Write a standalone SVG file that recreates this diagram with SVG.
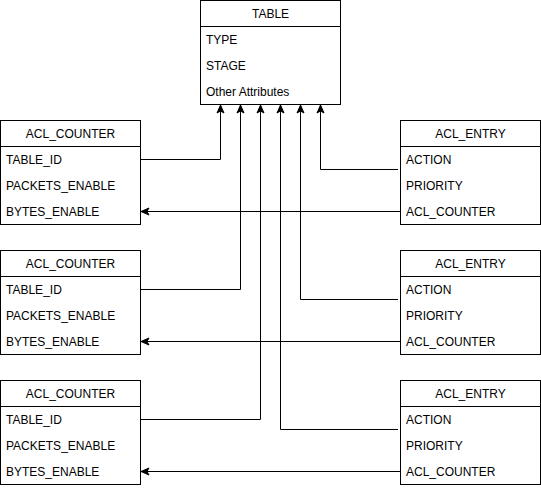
<svg xmlns="http://www.w3.org/2000/svg" width="541" height="488" viewBox="0 0 541 488">
<style>
.box{fill:#fff;stroke:#000;stroke-width:1}
.sep{stroke:#000;stroke-width:1}
.h{font-family:"Liberation Sans",Arial,sans-serif;font-size:12px;fill:#000;text-anchor:middle;dominant-baseline:central}
.r{font-family:"Liberation Sans",Arial,sans-serif;font-size:12px;fill:#000;dominant-baseline:central}
.c{fill:none;stroke:#000;stroke-width:1}
</style>
<defs>
<marker id="arr" markerWidth="10" markerHeight="10" refX="9" refY="5" orient="auto" markerUnits="userSpaceOnUse">
<path d="M1,1.5 L9,5 L1,8.5 L3,5 Z" fill="#000" stroke="#000" stroke-width="1"/>
</marker>
</defs>
<rect width="541" height="488" fill="#fff"/>
<g id="connectors">
<path class="c" d="M140.5,159.5 H220.5 V105" marker-end="url(#arr)"/>
<path class="c" d="M140.5,289.5 H240.5 V105" marker-end="url(#arr)"/>
<path class="c" d="M140.5,419.5 H260.5 V105" marker-end="url(#arr)"/>
<path class="c" d="M398,429.5 H280.5 V105" marker-end="url(#arr)"/>
<path class="c" d="M398,299.5 H300.5 V105" marker-end="url(#arr)"/>
<path class="c" d="M398,169.5 H320.5 V105" marker-end="url(#arr)"/>
<path class="c" d="M400.5,211.5 H141" marker-end="url(#arr)"/>
<path class="c" d="M400.5,341.5 H141" marker-end="url(#arr)"/>
<path class="c" d="M400.5,471.5 H141" marker-end="url(#arr)"/>
</g>
<g id="table">
<rect class="box" x="200.5" y="0.5" width="140" height="104"/>
<line class="sep" x1="200.5" y1="26.5" x2="340.5" y2="26.5"/>
<text class="h" x="270.5" y="13.5">TABLE</text>
<text class="r" x="206" y="40">TYPE</text>
<text class="r" x="206" y="66">STAGE</text>
<text class="r" x="206" y="92">Other Attributes</text>
</g>
<g id="acl_counter_1">
<rect class="box" x="0.5" y="120.5" width="140" height="104"/>
<line class="sep" x1="0.5" y1="146.5" x2="140.5" y2="146.5"/>
<text class="h" x="70.5" y="133.5">ACL_COUNTER</text>
<text class="r" x="6" y="160">TABLE_ID</text>
<text class="r" x="6" y="186">PACKETS_ENABLE</text>
<text class="r" x="6" y="212">BYTES_ENABLE</text>
</g>
<g id="acl_counter_2">
<rect class="box" x="0.5" y="250.5" width="140" height="104"/>
<line class="sep" x1="0.5" y1="276.5" x2="140.5" y2="276.5"/>
<text class="h" x="70.5" y="263.5">ACL_COUNTER</text>
<text class="r" x="6" y="290">TABLE_ID</text>
<text class="r" x="6" y="316">PACKETS_ENABLE</text>
<text class="r" x="6" y="342">BYTES_ENABLE</text>
</g>
<g id="acl_counter_3">
<rect class="box" x="0.5" y="380.5" width="140" height="104"/>
<line class="sep" x1="0.5" y1="406.5" x2="140.5" y2="406.5"/>
<text class="h" x="70.5" y="393.5">ACL_COUNTER</text>
<text class="r" x="6" y="420">TABLE_ID</text>
<text class="r" x="6" y="446">PACKETS_ENABLE</text>
<text class="r" x="6" y="472">BYTES_ENABLE</text>
</g>
<g id="acl_entry_1">
<rect class="box" x="400.5" y="120.5" width="140" height="104"/>
<line class="sep" x1="400.5" y1="146.5" x2="540.5" y2="146.5"/>
<text class="h" x="470.5" y="133.5">ACL_ENTRY</text>
<text class="r" x="406" y="160">ACTION</text>
<text class="r" x="406" y="186">PRIORITY</text>
<text class="r" x="406" y="212">ACL_COUNTER</text>
</g>
<g id="acl_entry_2">
<rect class="box" x="400.5" y="250.5" width="140" height="104"/>
<line class="sep" x1="400.5" y1="276.5" x2="540.5" y2="276.5"/>
<text class="h" x="470.5" y="263.5">ACL_ENTRY</text>
<text class="r" x="406" y="290">ACTION</text>
<text class="r" x="406" y="316">PRIORITY</text>
<text class="r" x="406" y="342">ACL_COUNTER</text>
</g>
<g id="acl_entry_3">
<rect class="box" x="400.5" y="380.5" width="140" height="104"/>
<line class="sep" x1="400.5" y1="406.5" x2="540.5" y2="406.5"/>
<text class="h" x="470.5" y="393.5">ACL_ENTRY</text>
<text class="r" x="406" y="420">ACTION</text>
<text class="r" x="406" y="446">PRIORITY</text>
<text class="r" x="406" y="472">ACL_COUNTER</text>
</g>
</svg>
